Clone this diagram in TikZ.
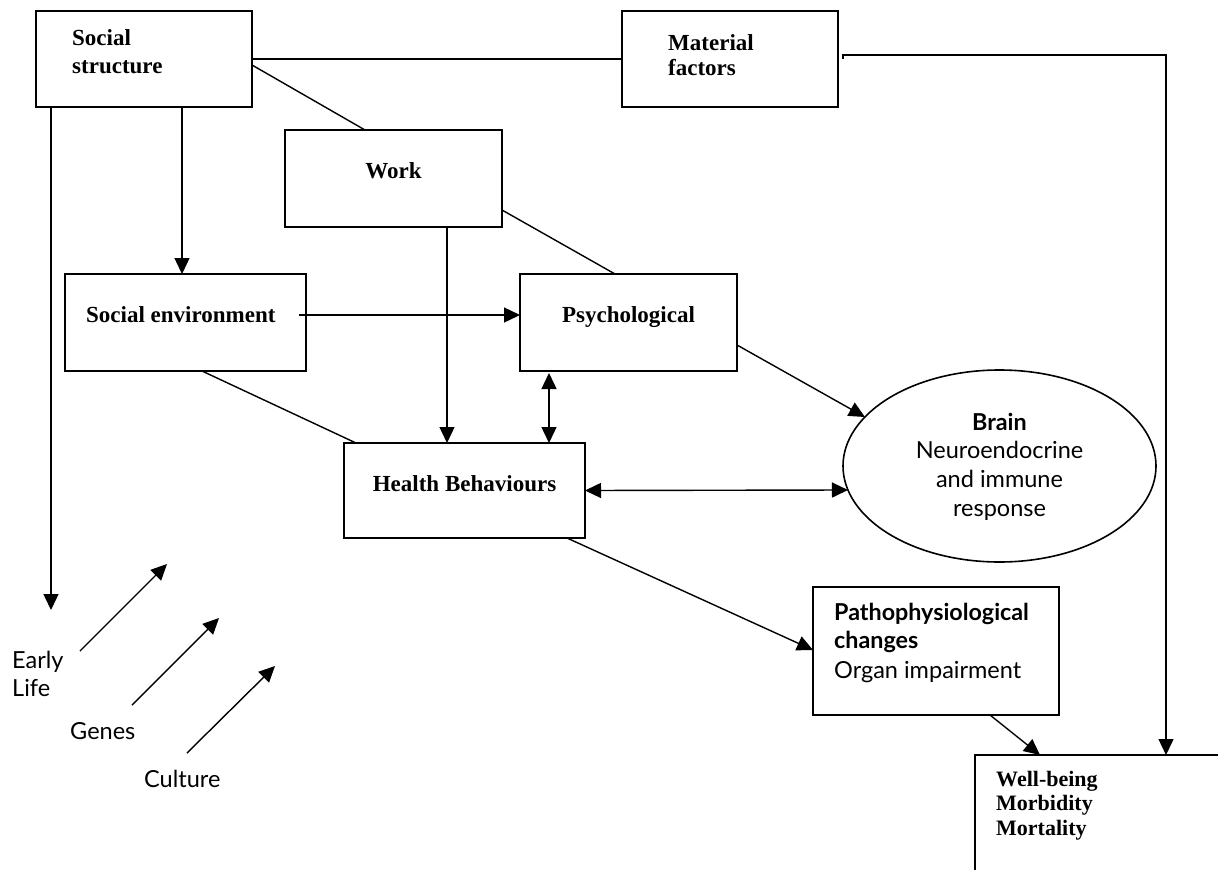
\documentclass[tikz,border=0pt]{standalone}
\usepackage{fontspec}
\setmainfont{Liberation Serif}
\newfontfamily\hs{Lato}
\usetikzlibrary{arrows.meta,calc,shapes.geometric}
\begin{document}
\begin{tikzpicture}[x=1pt,y=-1pt,
  box/.style={draw,line width=1.6pt,rectangle,inner sep=0,outer sep=0,anchor=north west},
  ln/.style={line width=1.4pt},
  arr/.style={ln,-{Triangle[length=16pt,width=15pt]}},
  barr/.style={ln,{Triangle[length=16pt,width=15pt]}-{Triangle[length=16pt,width=15pt]}},
  bl/.style={font=\bfseries\fontsize{23}{28}\selectfont,inner sep=0},
  wbl/.style={font=\bfseries\fontsize{22}{25}\selectfont,inner sep=0},
  sl/.style={font=\hs\fontsize{23.5}{29}\selectfont,inner sep=0},
  sbl/.style={font=\hs\bfseries\fontsize{23.3}{29}\selectfont,inner sep=0}]
\useasboundingbox (0,0) rectangle (1218,870);
\clip (0,0) rectangle (1218,870);
\fill[white] (0,0) rectangle (1218,870);

% boxes
\node[box,minimum width=216,minimum height=96] (ss) at (36,11) {};
\node[box,minimum width=216,minimum height=96] (mf) at (622,11) {};
\node[box,minimum width=217,minimum height=97] (work) at (285,130) {};
\node[box,minimum width=241,minimum height=97] (se) at (65,274) {};
\node[box,minimum width=217,minimum height=97] (psych) at (520,274) {};
\node[box,minimum width=241,minimum height=95] (hb) at (344,443) {};
\node[draw,line width=1.6pt,ellipse,inner sep=0,outer sep=0,minimum width=313,minimum height=192] (brain) at (999.5,466) {};
\node[box,minimum width=246,minimum height=128] (patho) at (813,587) {};
\node[box,minimum width=300,minimum height=200] (wb) at (975,755) {};

% texts
\node[bl,anchor=base west] (t1) at (72,45) {Social};
\node[bl,anchor=base west] (t2) at (72,73) {structure};
\node[bl,anchor=base west] (t3) at (668,50) {Material};
\node[bl,anchor=base west] (t4) at (668,75) {factors};
\node[bl,anchor=base] (t5) at (393.5,178) {Work};
\node[bl,anchor=base west] (t6) at (86,322) {Social environment};
\node[bl,anchor=base] (t7) at (628.5,322) {Psychological};
\node[bl,anchor=base] (t8) at (464.5,491) {Health Behaviours};
\node[sbl,anchor=base] (t9) at (999.5,430) {Brain};
\node[sl,anchor=base] (t10) at (999.5,458) {Neuroendocrine};
\node[sl,anchor=base] (t11) at (999.5,487) {and immune};
\node[sl,anchor=base] (t12) at (999.5,516) {response};
\node[sbl,anchor=base west] (t13) at (834,620) {Pathophysiological};
\node[sbl,anchor=base west] (t14) at (834,648) {changes};
\node[sl,anchor=base west] (t15) at (834,678) {Organ impairment};
\node[wbl,anchor=base west] (t16) at (996,786) {Well-being};
\node[wbl,anchor=base west] (t17) at (996,810.5) {Morbidity};
\node[wbl,anchor=base west] (t18) at (996,835) {Mortality};
\node[sl,anchor=base west] (t19) at (12,668) {Early};
\node[sl,anchor=base west] (t20) at (12,696) {Life};
\node[sl,anchor=base west] (t21) at (70,739) {Genes};
\node[sl,anchor=base west] (t22) at (144,787) {Culture};

% helper coordinates
\coordinate (el) at (51,610);
\coordinate (a1s) at (80,651);  \coordinate (a1e) at (167,564);
\coordinate (a2s) at (132,705); \coordinate (a2e) at (219,618);
\coordinate (a3s) at (187,753); \coordinate (a3e) at (275,666);
\coordinate (ssl) at ($(ss.south west)+(15,0)$);
\coordinate (ssm) at ($(ss.south west)+(146,0)$);
\coordinate (wkm) at ($(work.south west)+(162,0)$);
\coordinate (sep) at ($(se.east)+(-7,-7.5)$);
\coordinate (psb) at ($(psych.south west)+(29,2)$);
\coordinate (mfs) at ($(mf.east)+(5,0)$);
\coordinate (wbr) at ($(wb.north west)+(191,0)$);

% connectors
\draw[ln] (ss.east) -- (mf.west);
\draw[ln] ($(ss.east)+(0,6)$) -- ($(work.north west)+(80,0)$);
\draw[ln] ($(work.south east)+(0,-17)$) -- ($(psych.north west)+(95,0)$);
\draw[ln] ($(se.south west)+(137,0)$) -- ($(hb.north west)+(12,0)$);
\draw[arr] (ssl) -- (el);
\draw[arr] (ssm) -- (ssm |- se.north);
\draw[arr] (wkm) -- (wkm |- hb.north);
\draw[arr] (sep) -- (sep -| psych.west);
\draw[barr] (psb) -- (psb |- hb.north);
\draw[barr] (hb.east) -- (brain.189.4);
\draw[arr] ($(psych.east)+(0,22.5)$) -- (brain.160);
\draw[arr] ($(hb.south east)+(-18,0)$) -- ($(patho.north west)+(0,63)$);
\draw[arr] ($(patho.south west)+(177,0)$) -- ($(wb.north west)+(65,0)$);
\draw[arr] (mfs) -- ++(0,-4) -| (wbr);
\draw[arr] (a1s) -- (a1e);
\draw[arr] (a2s) -- (a2e);
\draw[arr] (a3s) -- (a3e);
\end{tikzpicture}
\end{document}
